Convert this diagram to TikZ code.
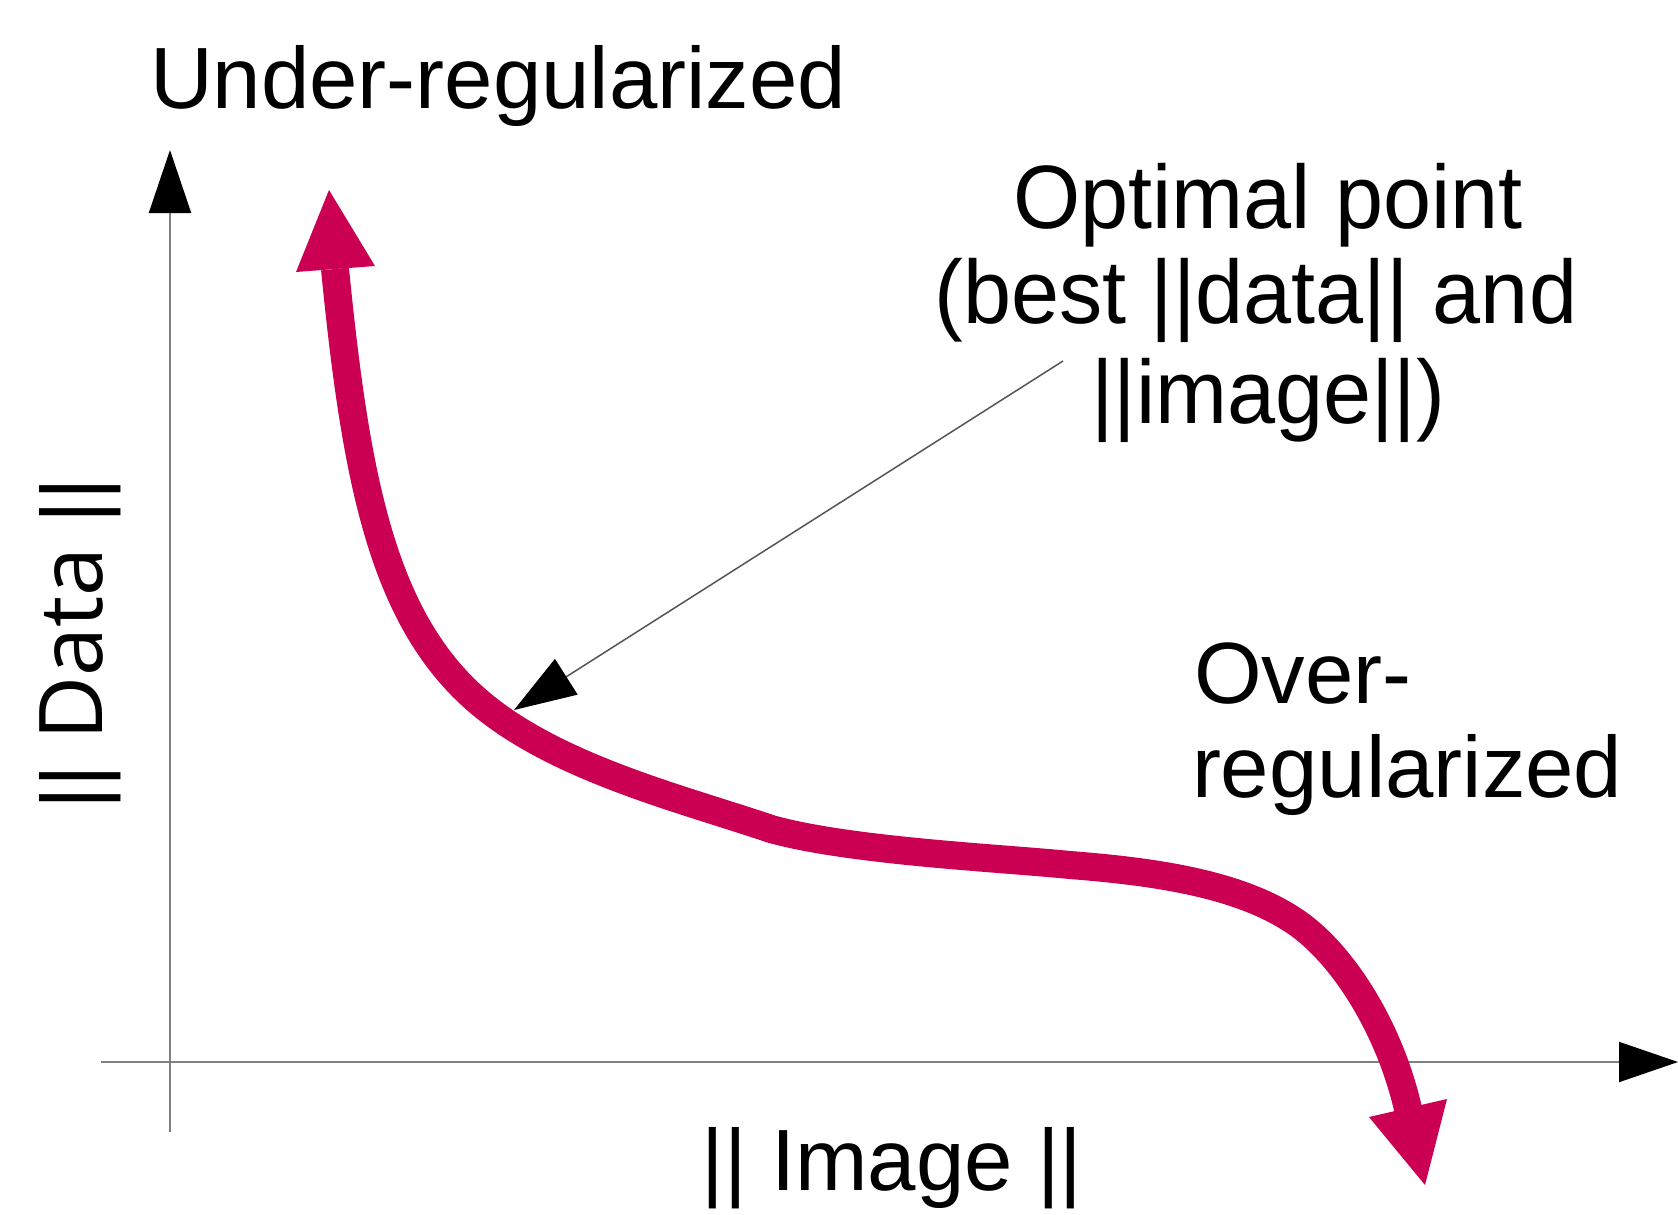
\documentclass[tikz,border=0pt]{standalone}
\usepackage{fontspec}
\setmainfont{Liberation Sans}
\newfontfamily\osans{Open Sans}
\newfontfamily\narrowsans[FakeStretch=0.96]{Liberation Sans}
\usetikzlibrary{arrows.meta}
\definecolor{crimson}{HTML}{CC0052}
\definecolor{axisgray}{HTML}{808080}
\definecolor{pointergray}{HTML}{555555}
\begin{document}
\begin{tikzpicture}[x=1pt,y=-1pt,
  axisline/.style={draw=axisgray,line width=2pt},
  curveline/.style={draw=crimson,line width=28pt,line cap=butt,line join=round},
  headfill/.style={fill=crimson},
  pointerline/.style={draw=pointergray,line width=1.5pt},
  lbl/.style={inner sep=0pt,outer sep=0pt,font=\fontsize{87}{100}\selectfont},
  optlbl/.style={inner sep=0pt,outer sep=0pt,font=\narrowsans\fontsize{90}{97}\selectfont}]
\useasboundingbox (0,0) rectangle (1678,1215);
\fill[white] (0,0) rectangle (1678,1215);

% axes
\coordinate (ybot) at (170,1132);
\coordinate (ytop) at (170,150);
\coordinate (xleft) at (101,1062);
\coordinate (xright) at (1678,1062);
\draw[axisline,-{Triangle[length=63pt,width=42pt,color=black]}] (ybot) -- (ytop);
\draw[axisline,-{Triangle[length=59pt,width=40pt,color=black]}] (xleft) -- (xright);

% L-curve
\coordinate (cstart) at (335,269);
\coordinate (knee) at (470,694);
\coordinate (m1) at (771,829);
\coordinate (m2) at (1070,865);
\coordinate (m3) at (1300,925);
\coordinate (cend) at (1408,1109);
\draw[curveline] (cstart)
  .. controls (355,470) and (380,610) .. (knee)
  .. controls (547,766) and (680,798) .. (m1)
  .. controls (850,851) and (1000,858) .. (m2)
  .. controls (1160,872) and (1245,885) .. (m3)
  .. controls (1345,958) and (1390,1030) .. (cend);
\coordinate (uptip) at (329,190);
\coordinate (upl) at (296,272);
\coordinate (upr) at (375,266);
\fill[headfill] (uptip) -- (upr) -- (upl) -- cycle;
\coordinate (dntip) at (1425,1185);
\coordinate (dnl) at (1369,1117);
\coordinate (dnr) at (1447,1099);
\fill[headfill] (dntip) -- (dnl) -- (dnr) -- cycle;

% pointer
\coordinate (pstart) at (1063,361);
\coordinate (ptip) at (514,710);
\draw[pointerline,-{Triangle[length=62pt,width=42pt,color=black]}] (pstart) -- (ptip);

% labels
\node[lbl,anchor=base west] (under) at (150,108) {Under-regularized};
\node[optlbl,anchor=base] (opt1) at (1268,228) {Optimal point};
\node[optlbl,anchor=base] (opt2) at (1256,323) {(best ||data|| and};
\node[optlbl,anchor=base] (opt3) at (1268,423) {||image||)};
\node[lbl,anchor=base west] (over1) at (1194,703) {Over-};
\node[lbl,anchor=base west] (over2) at (1192,797) {regularized};
\node[lbl,anchor=base] (ximg) at (892,1190) {|| Image ||};
\node[lbl,anchor=base,rotate=90] (ydata) at (102,644) {|| {\osans\fontsize{88}{100}\selectfont Data} ||};
\end{tikzpicture}
\end{document}
